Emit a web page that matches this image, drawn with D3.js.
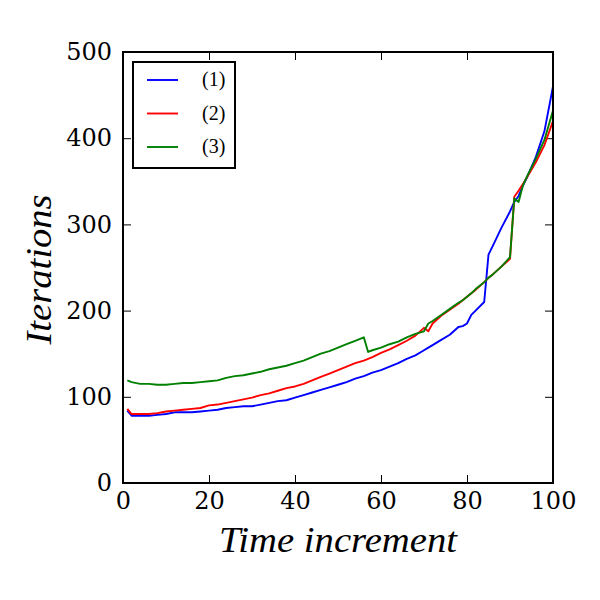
<!DOCTYPE html>
<html>
<head>
<meta charset="utf-8">
<script src="https://cdn.jsdelivr.net/npm/d3@7"></script>
<style>
  body { margin: 0; background: #fff; }
  .tick text { font-family: "DejaVu Serif", serif; }
</style>
</head>
<body>
<div id="my_dataviz"></div>
<script>
// time increments (shared by all three runs)
var steps = [1, 2, 4, 6, 8, 10, 12, 14, 16, 18, 20, 22, 24, 26, 28, 30, 32, 34, 36, 38,
  40, 42, 44, 46, 48, 50, 52, 54, 56, 57, 58, 60, 62, 64, 66, 68, 70, 71, 72, 74,
  76, 78, 79, 80, 81, 82, 84, 85, 86, 88, 90, 91, 92, 93, 94, 96, 98, 100];

var iter1 = [84, 78, 78, 78, 79, 80, 82, 82, 82, 83, 84, 85, 87, 88, 89, 89, 91, 93, 95, 96,
  99, 102, 105, 108, 111, 114, 117, 121, 124, 126, 128, 131, 135, 139, 144, 148, 154, 157, 160, 166,
  172, 181, 182, 185, 195, 200, 210, 265, 275, 296, 315, 326, 333, 345, 355, 378, 408, 460];

var iter2 = [86, 80, 80, 80, 81, 83, 84, 85, 86, 87, 90, 91, 93, 95, 97, 99, 102, 104, 107, 110,
  112, 115, 119, 123, 127, 131, 135, 139, 142, 144, 146, 151, 155, 160, 165, 171, 180, 176, 185, 194,
  201, 208, 212, 216, 220, 224, 233, 238, 242, 251, 260, 332, 339, 347, 355, 372, 392, 420];

var iter3 = [119, 117, 115, 115, 114, 114, 115, 116, 116, 117, 118, 119, 122, 124, 125, 127, 129, 132, 134, 136,
  139, 142, 146, 150, 153, 157, 161, 165, 169, 152, 154, 157, 161, 164, 169, 173, 176, 185, 188, 195,
  202, 209, 212, 216, 220, 225, 233, 238, 242, 251, 262, 330, 326, 345, 356, 376, 398, 432];

var seriesNames = ["(1)", "(2)", "(3)"];
var seriesColors = ["#0000ff", "#ff0000", "#008000"];
var xTicks = [0, 20, 40, 60, 80, 100];
var yTicks = [0, 100, 200, 300, 400, 500];

// set the dimensions and margins of the graph
var margin = { top: 52, right: 47, bottom: 117, left: 123 },
  width = 600 - margin.left - margin.right,
  height = 600 - margin.top - margin.bottom;

var svg = d3
  .select("#my_dataviz")
  .append("svg")
  .attr("width", 600)
  .attr("height", 600)
  .append("g")
  .attr("transform", "translate(" + margin.left + "," + margin.top + ")");

var x = d3.scaleLinear().domain([0, 100]).range([0, width]);
var y = d3.scaleLinear().domain([0, 500]).range([height, 0]);

function styleAxis(g) {
  g.select(".domain").remove();
  g.selectAll(".tick line").attr("stroke", "#000").attr("stroke-width", 1);
  g.selectAll(".tick text").attr("fill", "#000").style("font-size", "24px");
}

// bottom and left axes with inward ticks
svg.append("g")
  .attr("transform", "translate(0," + height + ")")
  .call(d3.axisBottom(x).tickValues(xTicks).tickSizeInner(-8).tickSizeOuter(0).tickPadding(9))
  .call(styleAxis);

svg.append("g")
  .call(d3.axisLeft(y).tickValues(yTicks).tickSizeInner(-8).tickSizeOuter(0).tickPadding(11))
  .call(styleAxis);

// top and right ticks (no labels)
svg.append("g")
  .call(d3.axisTop(x).tickValues(xTicks).tickSizeInner(-8).tickSizeOuter(0).tickFormat(""))
  .call(styleAxis);

svg.append("g")
  .attr("transform", "translate(" + width + ",0)")
  .call(d3.axisRight(y).tickValues(yTicks).tickSizeInner(-8).tickSizeOuter(0).tickFormat(""))
  .call(styleAxis);

// lines
var allSeries = [iter1, iter2, iter3];
var line = d3.line()
  .x(function (d) { return x(d[0]); })
  .y(function (d) { return y(d[1]); });

allSeries.forEach(function (vals, i) {
  svg.append("path")
    .datum(steps.map(function (s, j) { return [s, vals[j]]; }))
    .attr("fill", "none")
    .attr("stroke", seriesColors[i])
    .attr("stroke-width", 1.9)
    .attr("stroke-linejoin", "round")
    .attr("d", line);
});

// frame
svg.append("rect")
  .attr("width", width)
  .attr("height", height)
  .attr("fill", "none")
  .attr("stroke", "#000")
  .attr("stroke-width", 2);

// legend
var legend = svg.append("g").attr("transform", "translate(10,10)");
legend.append("rect")
  .attr("width", 102)
  .attr("height", 106)
  .attr("fill", "#fff")
  .attr("stroke", "#000")
  .attr("stroke-width", 2);

seriesNames.forEach(function (name, i) {
  var ly = 18 + i * 33.5;
  legend.append("line")
    .attr("x1", 14).attr("x2", 45)
    .attr("y1", ly).attr("y2", ly)
    .attr("stroke", seriesColors[i])
    .attr("stroke-width", 1.9);
  legend.append("text")
    .attr("x", 69)
    .attr("y", ly + 6)
    .attr("font-family", "Liberation Serif, serif")
    .attr("font-size", "20px")
    .attr("fill", "#000")
    .text(name);
});

// axis labels
svg.append("text")
  .attr("x", width / 2)
  .attr("y", height + 69)
  .attr("text-anchor", "middle")
  .attr("font-family", "Liberation Serif, serif")
  .attr("font-style", "italic")
  .attr("font-size", "36px")
  .attr("textLength", 238)
  .attr("lengthAdjust", "spacingAndGlyphs")
  .attr("fill", "#000")
  .text("Time increment");

svg.append("text")
  .attr("transform", "translate(" + (-72) + "," + (height / 2 + 2) + ")rotate(-90)")
  .attr("text-anchor", "middle")
  .attr("font-family", "Liberation Serif, serif")
  .attr("font-style", "italic")
  .attr("font-size", "36px")
  .attr("textLength", 150)
  .attr("lengthAdjust", "spacingAndGlyphs")
  .attr("fill", "#000")
  .text("Iterations");
</script>
</body>
</html>
